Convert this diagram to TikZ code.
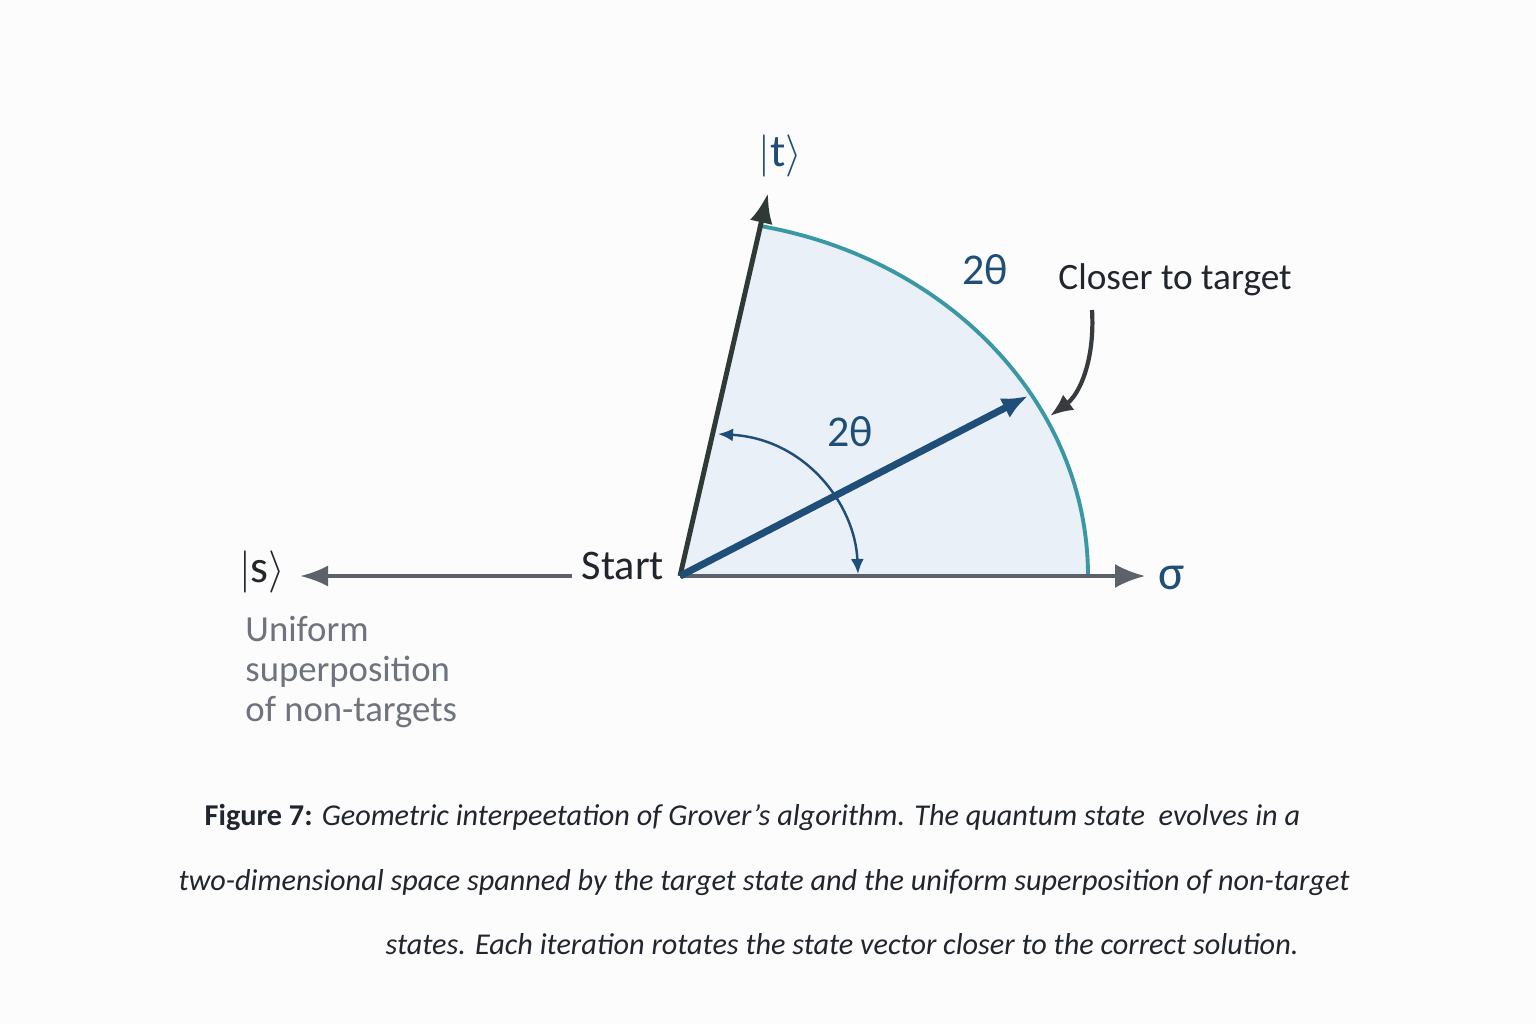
\documentclass[tikz,border=0pt]{standalone}
\usepackage{fontspec}
\setmainfont{Carlito}
\usetikzlibrary{arrows.meta}
\definecolor{stateblue}{RGB}{31,78,121}
\definecolor{arcteal}{RGB}{58,152,164}
\definecolor{axisgray}{RGB}{92,97,106}
\definecolor{targetdark}{RGB}{47,58,54}
\definecolor{wedgefill}{RGB}{233,240,247}
\definecolor{notegray}{RGB}{110,115,125}
\definecolor{textdark}{RGB}{33,37,45}

\begin{document}
\begin{tikzpicture}[x=1cm,y=1cm]

% Background and page size
\fill[white!98!gray] (0,0) rectangle (15.36,10.24);
\useasboundingbox (0,0) rectangle (15.36,10.24);

\coordinate (O) at (6.80,4.48);
\coordinate (t) at (7.68,8.31);
\coordinate (e) at (10.88,4.48);
\coordinate (v) at (10.28,6.28);

% Shaded wedge under the arc
\fill[wedgefill] (O) -- (e) arc[start angle=0, end angle=79, x radius=4.08, y radius=3.57] -- cycle;
\draw[arcteal, line width=1.1pt] (e) arc[start angle=0, end angle=79, x radius=4.08, y radius=3.57];

% Draw the axes
\draw [axisgray, line width=1pt, -{Latex[length=3mm,width=2.4mm]}] (O) -- (11.45,4.48) coordinate (sig);
\node[stateblue, font=\fontsize{14}{14}\selectfont] (siglab) at (11.72,4.46) {σ};

\coordinate (s0) at (5.72,4.48);
\draw [axisgray, line width=1pt, -{Latex[length=2.8mm,width=2.1mm]}] (s0) -- (3.00,4.48) coordinate (s);
\node[textdark, font=\fontsize{13}{13}\selectfont] (slab) at (2.62,4.52) {$|$s$\rangle$};
\node[textdark, font=\fontsize{12}{12}\selectfont] (start) at (6.23,4.58) {Start};

\node[notegray, font=\fontsize{10.45}{11.4}\selectfont, align=left, anchor=north west] (note) at (2.33,4.20)
  {Uniform\\superposition\\of non-targets};

% Target vector
\draw [targetdark, line width=1.4pt, -{Latex[length=3mm,width=2.3mm]}] (O) -- (t);
\node[stateblue, font=\fontsize{13}{13}\selectfont] (tlab) at (7.80,8.68) {$|$t$\rangle$};

% State vector
\draw [stateblue, line width=2pt, -{Latex[length=2.6mm,width=2.2mm]}] (O) -- (v);

% Angle between the vectors
\coordinate (a1) at (7.18,5.90);
\coordinate (a2) at (8.58,4.50);
\draw [stateblue, line width=0.7pt, {Latex[length=1.5mm,width=1.3mm]}-{Latex[length=1.5mm,width=1.3mm]}]
  (a1) .. controls (8.05,5.85) and (8.55,5.20) .. (a2);
\node[stateblue, font=\fontsize{12.5}{12.5}\selectfont] (ang) at (8.50,5.92) {2θ};
\node[stateblue, font=\fontsize{12.5}{12.5}\selectfont] (arcang) at (9.85,7.54) {2θ};

% Annotation
\node[textdark, font=\fontsize{10.6}{10.6}\selectfont] (closer) at (11.75,7.44) {Closer to target};
\coordinate (c0) at (10.92,7.14);
\coordinate (c1) at (10.50,6.08);
\draw [axisgray!60!black, line width=1.2pt, -{Latex[length=2.3mm,width=1.9mm]}]
  (c0) .. controls (10.95,6.65) and (10.80,6.30) .. (c1);

% Caption
\tikzset{caption/.style={textdark, font=\fontsize{8.6}{8.6}\selectfont, anchor=base west, inner sep=0pt}}
\node[caption] (cap1) at (2.04,1.99)
  {\textbf{Figure 7:} \textit{Geometric interpeetation of Grover’s algorithm. The quantum state\ \ evolves in a}};
\node[caption] (cap2) at (1.78,1.34)
  {\textit{two-dimensional space spanned by the target state and the uniform superposition of non-target}};
\node[caption] (cap3) at (3.85,0.70)
  {\textit{states. Each iteration rotates the state vector closer to the correct solution.}};

\end{tikzpicture}
\end{document}
